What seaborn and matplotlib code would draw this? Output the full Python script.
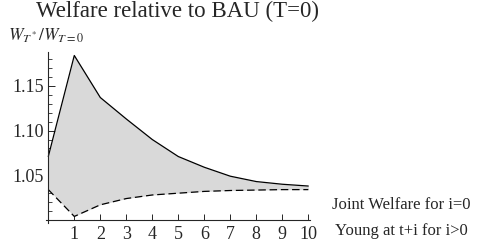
import pandas as pd
import matplotlib
matplotlib.use('Agg')
import matplotlib.pyplot as plt
import seaborn as sns
from matplotlib.ticker import MultipleLocator

# valores
periodos = [0, 1, 2, 3, 4, 5, 6, 7, 8, 9, 10]
bienestar_conjunto = [1.071, 1.184, 1.137, 1.113, 1.090, 1.071, 1.059, 1.049, 1.043, 1.040, 1.038]
bienestar_jovenes = [1.034, 1.004, 1.017, 1.024, 1.028, 1.030, 1.032, 1.033, 1.0335, 1.034, 1.034]
etiqueta_1 = 'Joint Welfare for i=0'
etiqueta_2 = 'Young at t+i for i>0'

datos = pd.DataFrame({'t': periodos, 'arriba': bienestar_conjunto, 'abajo': bienestar_jovenes})

sns.set_theme(style='ticks')
plt.rcParams['font.family'] = ['Liberation Serif', 'DejaVu Serif']
plt.rcParams['mathtext.fontset'] = 'stix'

fig = plt.figure(figsize=(4.83, 2.47), dpi=100)
ax = fig.add_axes([0.0946, 0.0984, 0.5464, 0.690])

ax.fill_between(datos['t'], datos['abajo'], datos['arriba'], color='#d9d9d9', linewidth=0)
sns.lineplot(data=datos, x='t', y='arriba', color='black', linewidth=0.9, ax=ax)
sns.lineplot(data=datos, x='t', y='abajo', color='black', linewidth=0.9, ax=ax)
ax.lines[-1].set_dashes([6, 3])

ax.set_xlim(-0.1, 10.05)
ax.set_ylim(0.997, 1.1876)
ax.spines['left'].set_position(('data', 0))
ax.spines['bottom'].set_position(('data', 1.0))
ax.spines['top'].set_visible(False)
ax.spines['right'].set_visible(False)
for s in ['left', 'bottom']:
    ax.spines[s].set_linewidth(0.8)

ax.set_xticks(range(1, 11))
ax.set_yticks([1.05, 1.10, 1.15])
ax.set_yticklabels(['1.05', '1.10', '1.15'])
ax.yaxis.set_minor_locator(MultipleLocator(0.01))
ax.tick_params(axis='x', direction='in', length=4, width=0.7, labelsize=13, pad=4)
ax.tick_params(axis='y', which='major', direction='in', length=5, width=0.7, labelsize=13, pad=3)
ax.tick_params(axis='y', which='minor', direction='in', length=3, width=0.6)
ax.set_xlabel('')
ax.set_ylabel('')

fig.text(177 / 483, 1 - 17.5 / 247, 'Welfare relative to BAU (T=0)', ha='center', va='baseline', fontsize=16.5)
fig.text(46 / 483, 1 - 35.5 / 247, r'$W_{T^*}/W_{T=0}$', ha='center', va='center', fontsize=12.5)
fig.text(401 / 483, 1 - 205 / 247, etiqueta_1, ha='center', va='center', fontsize=12)
fig.text(401 / 483, 1 - 231 / 247, etiqueta_2, ha='center', va='center', fontsize=12)

fig.savefig('out.png', dpi=100)
